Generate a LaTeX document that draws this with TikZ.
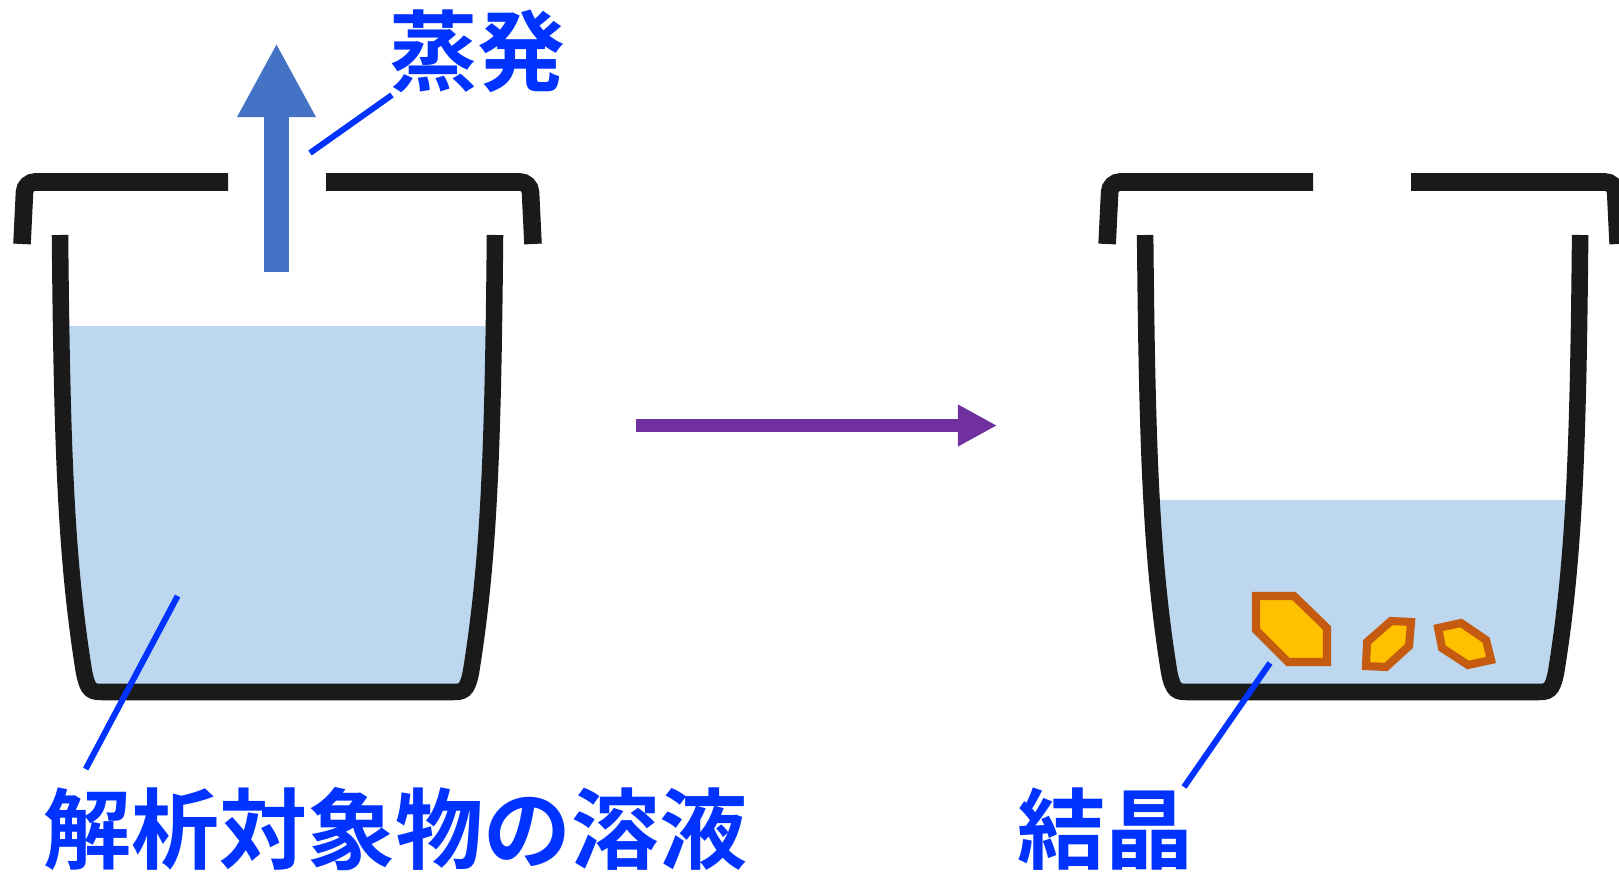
\documentclass[tikz,border=0pt]{standalone}
\usepackage{fontspec}
\newfontfamily\jpfont{Noto Sans CJK JP}[UprightFont={* Bold}]
\usetikzlibrary{arrows.meta}

\definecolor{wallgray}{HTML}{1A1A1A}
\definecolor{waterblue}{HTML}{BDD7EE}
\definecolor{steamblue}{HTML}{4472C4}
\definecolor{flowpurple}{HTML}{7030A0}
\definecolor{textblue}{RGB}{0,51,255}
\definecolor{crystalfill}{HTML}{FFC000}
\definecolor{crystaledge}{HTML}{C55A11}

\tikzset{
    vessel/.style={draw=wallgray, line width=4.7pt},
    lid/.style={draw=wallgray, line width=5pt, rounded corners=0.1cm},
    water/.style={fill=waterblue},
    steam/.style={draw=steamblue, line width=0.25cm, -{Triangle[length=0.74cm, width=0.73cm]}},
    flow/.style={draw=flowpurple, line width=0.13cm, -{Triangle[length=0.39cm, width=0.39cm]}},
    leader/.style={draw=textblue, line width=1.7pt},
    caption/.style={text=textblue, inner sep=0pt, font=\jpfont\fontsize{25pt}{25pt}\selectfont},
    crystal/.style={fill=crystalfill, draw=crystaledge, line width=2.3pt, line join=miter}
}

% outline of one beaker, walls and bottom
\newcommand{\vesselpath}{(60,235) .. controls (62,450) and (66,560) .. (84,672)
    .. controls (88,692) and (92,692) .. (104,692) -- (451,692)
    .. controls (463,692) and (467,692) .. (471,672)
    .. controls (489,560) and (493,450) .. (495,235)}

\begin{document}
\begin{tikzpicture}[x=0.01cm, y=-0.01cm]
    \useasboundingbox (0,0) rectangle (1619,873);

    % beaker before
    \begin{scope}
        \clip (0,326) rectangle (555,720);
        \fill[water] \vesselpath -- cycle;
    \end{scope}
    \draw[vessel] \vesselpath;
    \draw[lid] (22,244) -- (25,182) -- (228,182);
    \draw[lid] (326,182) -- (530,182) -- (533,244);

    % beaker after
    \begin{scope}[xshift=10.845cm]
        \begin{scope}
            \clip (0,500) rectangle (555,720);
            \fill[water] \vesselpath -- cycle;
        \end{scope}
        \draw[vessel] \vesselpath;
        \draw[lid] (22,244) -- (25,182) -- (228,182);
        \draw[lid] (326,182) -- (530,182) -- (533,244);
    \end{scope}

    % crystals
    \draw[crystal] (1256,596) -- (1294,596) -- (1327,628) -- (1327,662) -- (1288,662) -- (1256,630) -- cycle;
    \draw[crystal] (1367,642) -- (1391,621) -- (1411,622) -- (1409,646) -- (1386,667) -- (1366,666) -- cycle;
    \draw[crystal] (1438,628) -- (1461,623) -- (1486,640) -- (1491,660) -- (1468,665) -- (1442,648) -- cycle;

    \coordinate (STEAMFROM) at (276.5,272);
    \coordinate (STEAMTO) at (276.5,43);
    \draw[steam] (STEAMFROM) -- (STEAMTO);

    \coordinate (FLOWFROM) at (636,425.5);
    \coordinate (FLOWTO) at (997,425.5);
    \draw[flow] (FLOWFROM) -- (FLOWTO);

    \node[caption] (EVAP) at (477.5,51) {蒸発};
    \node[caption] (SOLUTION) at (395.5,829) {解析対象物の溶液};
    \node[caption] (CRYSTAL) at (1105,829) {結晶};

    \coordinate (EVAPA) at (392,95);
    \coordinate (EVAPB) at (310,153);
    \coordinate (SOLA) at (85.7,769);
    \coordinate (SOLB) at (177.6,596);
    \coordinate (CRYA) at (1184,787);
    \coordinate (CRYB) at (1270,663);
    \draw[leader] (EVAPA) -- (EVAPB);
    \draw[leader] (SOLA) -- (SOLB);
    \draw[leader] (CRYA) -- (CRYB);
\end{tikzpicture}
\end{document}
